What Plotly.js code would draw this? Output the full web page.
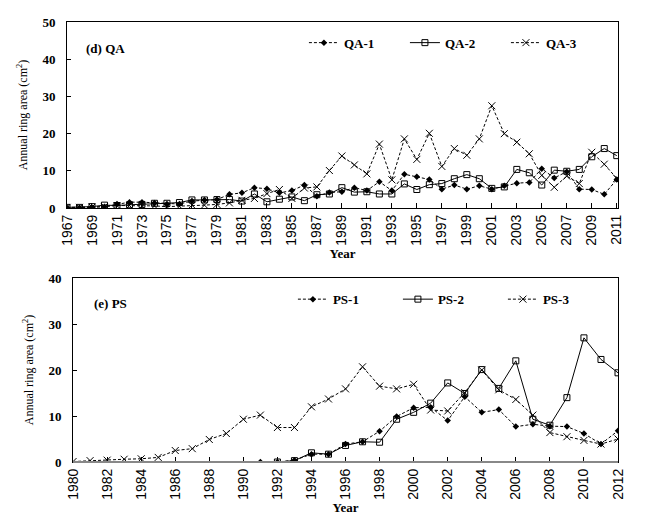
<!DOCTYPE html>
<html><head><meta charset="utf-8">
<script src="https://cdn.plot.ly/plotly-3.0.1.min.js"></script>
<style>html,body{margin:0;padding:0;background:#fff}#chart{width:648px;height:523px}</style>
</head><body><div id="chart"></div>
<script>
// ---- Data ----
const yearsQA = [1967,1968,1969,1970,1971,1972,1973,1974,1975,1976,1977,1978,1979,1980,1981,1982,1983,1984,1985,1986,1987,1988,1989,1990,1991,1992,1993,1994,1995,1996,1997,1998,1999,2000,2001,2002,2003,2004,2005,2006,2007,2008,2009,2010,2011];
const qa1 = [0.1,0.1,0.2,0.4,1.1,1.6,1.6,1.4,1.1,1.1,1.9,2.2,2.3,3.7,4.1,5.5,5.2,4.1,4.7,6.2,3.2,4.2,4.4,5.5,4.7,7.1,4.7,9.1,8.4,7.7,5.1,6.2,5.1,6.0,5.1,6.0,6.7,6.9,10.6,8.1,9.8,5.1,5.0,3.7,7.7];
const qa2 = [0.2,0.2,0.4,0.8,0.7,0.9,1.0,1.3,1.3,1.5,2.2,2.2,2.3,2.3,1.9,3.8,1.7,2.4,3.0,2.0,3.6,3.8,5.5,4.3,4.4,3.8,3.8,6.5,5.0,6.3,6.6,7.9,9.0,7.9,5.3,5.7,10.4,9.5,6.2,10.2,9.9,10.4,13.8,16.0,14.1];
const qa3 = [0.2,0.2,0.3,0.4,0.7,0.7,0.5,0.6,0.4,0.5,0.8,0.8,1.0,1.4,2.1,2.6,3.9,5.0,2.6,5.4,5.7,10.1,14.0,11.6,9.2,17.2,7.6,18.6,13.1,20.1,11.2,16.0,14.2,18.6,27.5,20.0,17.7,14.6,8.8,5.6,8.6,6.6,15.0,11.8,8.0];
const qaTicks = [1967,1969,1971,1973,1975,1977,1979,1981,1983,1985,1987,1989,1991,1993,1995,1997,1999,2001,2003,2005,2007,2009,2011];

const yearsPS = [1980,1981,1982,1983,1984,1985,1986,1987,1988,1989,1990,1991,1992,1993,1994,1995,1996,1997,1998,1999,2000,2001,2002,2003,2004,2005,2006,2007,2008,2009,2010,2011,2012];
const ps1 = [null,null,null,null,null,null,null,null,null,null,null,0.0,0.0,0.4,1.7,1.7,3.9,4.4,6.7,9.9,11.8,11.9,9.0,14.2,10.8,11.4,7.7,8.2,7.8,7.7,6.2,3.9,6.8];
const ps2 = [null,null,null,null,null,null,null,null,null,null,null,null,0.0,0.3,2.0,1.7,3.6,4.4,4.3,9.3,10.8,12.8,17.2,14.9,20.1,16.0,22.0,9.3,8.0,14.0,27.0,22.3,19.4];
const ps3 = [0.1,0.3,0.4,0.6,0.7,1.0,2.5,2.9,4.9,6.2,9.3,10.2,7.5,7.5,12.0,13.7,15.9,20.7,16.5,15.9,16.9,11.3,11.1,15.1,20.0,15.7,13.6,10.2,6.4,5.5,4.7,3.9,5.0];
const psTicks = [1980,1982,1984,1986,1988,1990,1992,1994,1996,1998,2000,2002,2004,2006,2008,2010,2012];

// ---- Styles ----
const serif = 'Liberation Serif, Times New Roman, serif';
const sans = 'Liberation Sans, Arial, sans-serif';
const dashS = '3px,2px';
function tr(x, y, name, xa, ya, leg, kind){
  const t = {x:x, y:y, name:name, xaxis:xa, yaxis:ya, legend:leg, type:'scatter', mode:'lines+markers', connectgaps:false,
    line:{color:'#000', width:1}, marker:{color:'#000'}};
  if(kind===1){ t.line.dash=dashS; t.marker.symbol='diamond'; t.marker.size=5; }
  if(kind===2){ t.marker.symbol='square-open'; t.marker.size=6; t.marker.line={width:1,color:'#000'}; }
  if(kind===3){ t.line.dash=dashS; t.marker.symbol='x-thin-open'; t.marker.size=7; t.marker.line={width:1,color:'#000'}; }
  return t;
}
const data = [
  tr(yearsQA, qa1, 'QA-1', 'x', 'y', 'legend', 1),
  tr(yearsQA, qa2, 'QA-2', 'x', 'y', 'legend', 2),
  tr(yearsQA, qa3, 'QA-3', 'x', 'y', 'legend', 3),
  tr(yearsPS, ps1, 'PS-1', 'x2', 'y2', 'legend2', 1),
  tr(yearsPS, ps2, 'PS-2', 'x2', 'y2', 'legend2', 2),
  tr(yearsPS, ps3, 'PS-3', 'x2', 'y2', 'legend2', 3)
];

const xCommon = {showgrid:false, zeroline:false, ticks:'inside', ticklen:5, tickcolor:'#000', tickangle:-90,
  tickfont:{family:sans, size:14, color:'#000'}, showline:true, linecolor:'#000', linewidth:1, mirror:true};
const yCommon = {showgrid:false, zeroline:false, ticks:'inside', ticklen:4, tickcolor:'#000',
  tickfont:{family:serif, size:13, color:'#000', weight:'bold'}, showline:true, linecolor:'#000', linewidth:1, mirror:true,
  ticklabelstandoff:8};
const ytitle = {text:'Annual ring area (cm<sup>2</sup>)', font:{family:serif, size:12, color:'#000'}, standoff:12};
const xtitle = {text:'Year', font:{family:serif, size:13, color:'#000', weight:'bold'}, standoff:2};
const legFont = {family:serif, size:13, color:'#000', weight:'bold'};

const layout = {
  width:648, height:523, paper_bgcolor:'#fff', plot_bgcolor:'#fff',
  margin:{l:67, r:30, t:22, b:61},
  showlegend:true,
  xaxis: Object.assign({}, xCommon, {domain:[0,1], anchor:'y', range:[1967,2011.1], tickvals:qaTicks, ticktext:qaTicks.map(String), title:xtitle}),
  yaxis: Object.assign({}, yCommon, {domain:[0.577,1], anchor:'x', range:[0,50], tickvals:[0,10,20,30,40,50], title:ytitle}),
  xaxis2: Object.assign({}, xCommon, {domain:[0.011,1], anchor:'y2', range:[1980,2012], tickvals:psTicks, ticktext:psTicks.map(String), title:xtitle}),
  yaxis2: Object.assign({}, yCommon, {domain:[0,0.418], anchor:'x2', range:[0,40], tickvals:[0,10,20,30,40], title:ytitle}),
  legend:{orientation:'h', x:0.43, y:0.953, xanchor:'left', yanchor:'middle', font:legFont, bgcolor:'rgba(0,0,0,0)', entrywidth:56, tracegroupgap:0},
  legend2:{orientation:'h', x:0.41, y:0.37, xanchor:'left', yanchor:'middle', font:legFont, bgcolor:'rgba(0,0,0,0)', entrywidth:60, tracegroupgap:0},
  annotations:[
    {text:'(d) QA', xref:'x domain', yref:'y domain', x:0.03, y:0.86, xanchor:'left', yanchor:'middle', showarrow:false, font:{family:serif, size:13, color:'#000', weight:'bold'}},
    {text:'(e) PS', xref:'x2 domain', yref:'y2 domain', x:0.035, y:0.86, xanchor:'left', yanchor:'middle', showarrow:false, font:{family:serif, size:13, color:'#000', weight:'bold'}}
  ],
  shapes:[
    {type:'line', xref:'x2 domain', yref:'y2 domain', x0:0, x1:1, y0:0, y1:0, line:{color:'#888', width:2}, layer:'above'}
  ]
};
Plotly.newPlot('chart', data, layout, {displayModeBar:false, staticPlot:true});
</script></body></html>
